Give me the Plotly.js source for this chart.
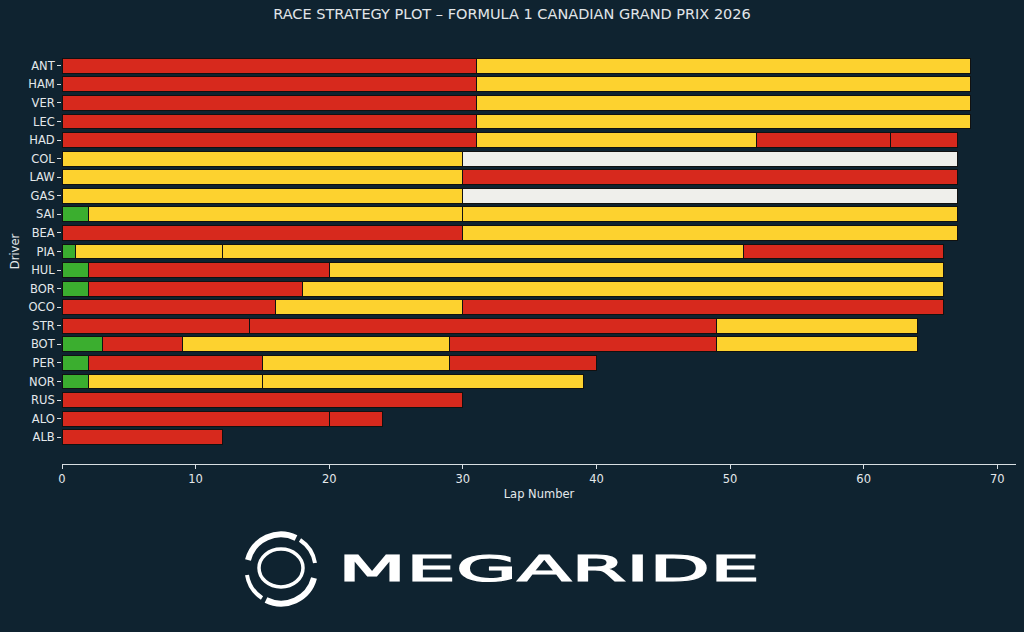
<!DOCTYPE html>
<html>
<head>
<meta charset="utf-8">
<script src="https://cdn.plot.ly/plotly-3.0.1.min.js"></script>
<style>
  html, body { margin: 0; padding: 0; background: #0f2330; }
  #wrap { position: relative; width: 1024px; height: 632px; }
  #chart { position: absolute; left: 0; top: 0; width: 1024px; height: 632px; }
  #logo { position: absolute; left: 0; top: 0; pointer-events: none; }
</style>
</head>
<body>
<div id="wrap">
  <div id="chart"></div>
  <svg id="logo" width="1024" height="632" xmlns="http://www.w3.org/2000/svg">
    <g fill="none" stroke="#ffffff">
      <path d="M 248 560 A 34 34 0 0 1 296 538" stroke-width="6"/>
      <path d="M 314 578 A 34 34 0 0 1 266 600" stroke-width="6"/>
      <path d="M 247 575 A 34 34 0 0 0 262 598" stroke-width="4"/>
      <path d="M 315 563 A 34 34 0 0 0 300 540" stroke-width="4"/>
      <ellipse cx="281" cy="568" rx="22" ry="19" stroke-width="3.5"/>
    </g>
    <text x="338" y="581" fill="#ffffff" stroke="#ffffff" stroke-width="1.2" font-family="DejaVu Sans" font-size="36" textLength="422" lengthAdjust="spacingAndGlyphs">MEGARIDE</text>
  </svg>
</div>
<script>
// ---- data ----
const drivers = ["ANT","HAM","VER","LEC","HAD","COL","LAW","GAS","SAI","BEA","PIA","HUL","BOR","OCO","STR","BOT","PER","NOR","RUS","ALO","ALB"];

// stint lengths (laps) and compounds, by stint number
const stint1Laps = [31,31,31,31,31,30,30,30,2,30,1,2,2,16,14,3,2,2,30,20,12];
const stint1Tyre = ["SOFT","SOFT","SOFT","SOFT","SOFT","MEDIUM","MEDIUM","MEDIUM","INTERMEDIATE","SOFT","INTERMEDIATE","INTERMEDIATE","INTERMEDIATE","SOFT","SOFT","INTERMEDIATE","INTERMEDIATE","INTERMEDIATE","SOFT","SOFT","SOFT"];

const stint2Laps = [37,37,37,37,21,37,37,37,28,37,11,18,16,14,35,6,13,13,null,4,null];
const stint2Tyre = ["MEDIUM","MEDIUM","MEDIUM","MEDIUM","MEDIUM","HARD","SOFT","HARD","MEDIUM","MEDIUM","MEDIUM","SOFT","SOFT","MEDIUM","SOFT","SOFT","SOFT","MEDIUM",null,"SOFT",null];

const stint3Laps = [null,null,null,null,10,null,null,null,37,null,39,46,48,36,15,20,14,24,null,null,null];
const stint3Tyre = [null,null,null,null,"SOFT",null,null,null,"MEDIUM",null,"MEDIUM","MEDIUM","MEDIUM","SOFT","MEDIUM","MEDIUM","MEDIUM","MEDIUM",null,null,null];

const stint4Laps = [null,null,null,null,5,null,null,null,null,null,15,null,null,null,null,20,11,null,null,null,null];
const stint4Tyre = [null,null,null,null,"SOFT",null,null,null,null,null,"SOFT",null,null,null,null,"SOFT","SOFT",null,null,null,null];

const stint5Laps = [null,null,null,null,null,null,null,null,null,null,null,null,null,null,null,15,null,null,null,null,null];
const stint5Tyre = [null,null,null,null,null,null,null,null,null,null,null,null,null,null,null,"MEDIUM",null,null,null,null,null];

const compoundColors = {
  SOFT: "#d7291d",
  MEDIUM: "#fdd22f",
  HARD: "#efefeb",
  INTERMEDIATE: "#3bae2f"
};

const stints = [
  [stint1Laps, stint1Tyre],
  [stint2Laps, stint2Tyre],
  [stint3Laps, stint3Tyre],
  [stint4Laps, stint4Tyre],
  [stint5Laps, stint5Tyre]
];

const traces = stints.map(([laps, tyres], i) => ({
  type: "bar",
  orientation: "h",
  name: "Stint " + (i + 1),
  y: drivers,
  x: laps,
  width: 0.8,
  marker: {
    color: tyres.map(t => t ? compoundColors[t] : "rgba(0,0,0,0)"),
    line: { color: "#111111", width: 1 }
  },
  hovertemplate: "%{y}: %{x} laps<extra></extra>"
}));

const textColor = "#e4e8eb";
const layout = {
  width: 1024,
  height: 632,
  paper_bgcolor: "#0f2330",
  plot_bgcolor: "#0f2330",
  barmode: "stack",
  showlegend: false,
  margin: { l: 62, r: 8, t: 39, b: 168 },
  font: { family: "DejaVu Sans", color: textColor, size: 11 },
  title: {
    text: "RACE STRATEGY PLOT – FORMULA 1 CANADIAN GRAND PRIX 2026",
    font: { family: "DejaVu Sans", size: 14.5, color: "#e2e6e9" },
    x: 0.5, xanchor: "center",
    y: 1 - 14 / 632, yref: "container", yanchor: "middle"
  },
  xaxis: {
    range: [0, 71.4],
    showgrid: false,
    zeroline: false,
    showline: true,
    linecolor: "#d8dee2",
    linewidth: 1,
    ticks: "outside",
    ticklen: 4,
    tickcolor: "#d8dee2",
    tickvals: [0, 10, 20, 30, 40, 50, 60, 70],
    tickfont: { size: 11.5, color: textColor },
    title: { text: "Lap Number", font: { size: 11.5, color: textColor }, standoff: 5 }
  },
  yaxis: {
    type: "category",
    categoryorder: "array",
    categoryarray: drivers,
    range: [21.44, -1.44],
    showgrid: false,
    zeroline: false,
    showline: false,
    ticks: "outside",
    ticklen: 4,
    tickcolor: "#d8dee2",
    tickfont: { size: 11.5, color: textColor },
    title: { text: "Driver", font: { size: 11.5, color: textColor }, standoff: 6 }
  }
};

Plotly.newPlot("chart", traces, layout, { displayModeBar: false, staticPlot: true });
</script>
</body>
</html>
